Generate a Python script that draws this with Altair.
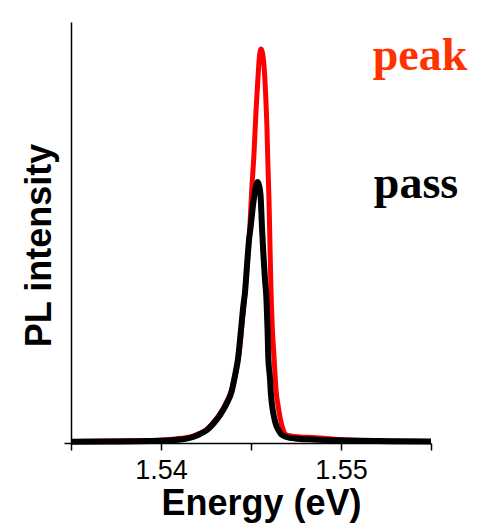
import altair as alt
import pandas as pd

# Photoluminescence spectra, energy in eV, intensity in arbitrary units
peak_energy = [1.5350, 1.53717, 1.53939, 1.54078, 1.54178, 1.54217, 1.54256, 1.54294,
               1.54328, 1.54361, 1.54394, 1.54417, 1.54431, 1.54442, 1.54450, 1.54461,
               1.54467, 1.54478, 1.54492, 1.54504, 1.54517, 1.54528, 1.54539, 1.54547,
               1.54556, 1.54564, 1.54572, 1.54582, 1.54589, 1.54594, 1.54600, 1.54606,
               1.54611, 1.54619, 1.54628, 1.54639, 1.54650, 1.54661, 1.54679, 1.54694,
               1.54722, 1.54772, 1.54844, 1.55033, 1.55272, 1.55500]
peak_intensity = [3.6, 4.8, 5.9, 9.5, 16.6, 23, 33, 50,
                  70, 95, 128, 170, 205, 245, 285, 328,
                  363, 420, 500, 600, 690, 790, 870, 918,
                  936, 926, 898, 822, 743, 660, 577, 458,
                  363, 268, 204, 126, 90, 62, 31, 20,
                  16.6, 14.3, 13, 7, 4.8, 3.6]

pass_energy = [1.5350, 1.53717, 1.53939, 1.54078, 1.54178, 1.54217, 1.54256, 1.54294,
               1.54328, 1.54361, 1.54393, 1.54411, 1.54429, 1.54439, 1.54448, 1.54458,
               1.54467, 1.54478, 1.54489, 1.54498, 1.54508, 1.54519, 1.54528, 1.54536,
               1.54544, 1.54553, 1.54561, 1.54569, 1.54578, 1.54586, 1.54592, 1.54596,
               1.54606, 1.54609, 1.54617, 1.54628, 1.54639, 1.54652, 1.54667, 1.54698,
               1.54744, 1.54844, 1.55033, 1.55272, 1.55500]
pass_intensity = [2.9, 3.6, 4.8, 7.1, 14.3, 21.4, 30.9, 47.5,
                  66.5, 90.3, 123.5, 160, 204, 245, 285, 328,
                  359, 423, 482, 513, 553, 589, 610, 620,
                  613, 589, 513, 447, 387, 340, 268, 204,
                  150, 126, 90, 62, 43, 31, 21, 14.3,
                  10.7, 8.3, 5.9, 4.3, 3.6]

label_text = ["peak", "pass"]
label_energy = [1.55439, 1.55417]
label_intensity = [886, 582]
label_color = ["#ff3300", "#000000"]

peak_df = pd.DataFrame({"energy": peak_energy, "intensity": peak_intensity})
pass_df = pd.DataFrame({"energy": pass_energy, "intensity": pass_intensity})
labels_df = pd.DataFrame({"text": label_text, "energy": label_energy,
                          "intensity": label_intensity, "color": label_color})

x_scale = alt.Scale(domain=[1.535, 1.555], nice=False, zero=False)
y_scale = alt.Scale(domain=[0, 1000], nice=False)

x_axis = alt.Axis(
    title="Energy (eV)",
    values=[1.535, 1.54, 1.545, 1.55, 1.555],
    labelExpr="(abs(datum.value - 1.54) < 1e-6 || abs(datum.value - 1.55) < 1e-6) ? format(datum.value, '.2f') : ''",
    grid=False, tickSize=7, tickWidth=1.5, tickColor="#000000",
    domainColor="#000000", domainWidth=1.5,
    labelFont="Liberation Sans", labelFontSize=27, labelColor="#000000", labelPadding=7,
    titleFont="Liberation Sans", titleFontSize=36, titleFontWeight="bold", titleColor="#000000",
    titleX=190, titleY=71, titleBaseline="alphabetic", titleAlign="center",
)
y_axis = alt.Axis(
    title="PL intensity", values=[0], labels=False,
    grid=False, tickSize=7, tickWidth=1.5, tickColor="#000000",
    domainColor="#000000", domainWidth=1.5,
    titleFont="Liberation Sans", titleFontSize=36, titleFontWeight="bold", titleColor="#000000",
    titleAngle=-90, titleX=-21, titleY=223, titleBaseline="alphabetic", titleAlign="center",
)

base_x = alt.X("energy:Q", scale=x_scale, axis=x_axis)
base_y = alt.Y("intensity:Q", scale=y_scale, axis=y_axis)

peak_line = alt.Chart(peak_df).mark_line(
    color="#ff0000", strokeWidth=5, interpolate="monotone"
).encode(x=base_x, y=base_y)

pass_line = alt.Chart(pass_df).mark_line(
    color="#000000", strokeWidth=6, interpolate="monotone"
).encode(x=alt.X("energy:Q", scale=x_scale), y=alt.Y("intensity:Q", scale=y_scale))

labels = alt.Chart(labels_df).mark_text(
    font="Liberation Serif", fontSize=46, fontWeight="bold",
    align="center", baseline="alphabetic"
).encode(
    x=alt.X("energy:Q", scale=x_scale),
    y=alt.Y("intensity:Q", scale=y_scale),
    text="text:N",
    color=alt.Color("color:N", scale=None),
)

chart = alt.layer(peak_line, pass_line, labels).properties(
    width=360, height=421,
    autosize=alt.AutoSizeParams(type="none"),
    padding={"left": 71, "top": 22, "right": 49, "bottom": 88},
    background="#ffffff",
).configure_view(stroke=None)

chart.save("out.html", embed_options={"renderer": "svg", "actions": False})
